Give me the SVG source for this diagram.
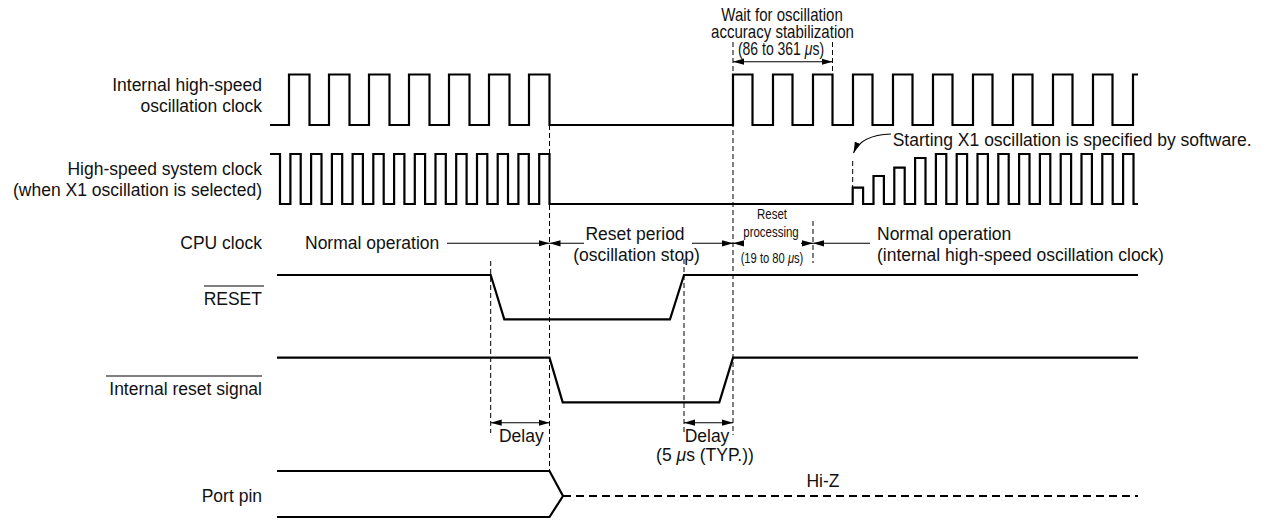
<svg xmlns="http://www.w3.org/2000/svg" width="1266" height="520" viewBox="0 0 1266 520">
<style>
text{font-family:"Liberation Sans",Arial,sans-serif;font-size:17.5px;fill:#111}
.end{text-anchor:end}
.mid{text-anchor:middle}
.sm{font-size:14px}
.wave{fill:none;stroke:#000;stroke-width:2.2;stroke-linejoin:miter}
.dash{fill:none;stroke:#000;stroke-width:1;stroke-dasharray:5,3}
.arr{fill:none;stroke:#000;stroke-width:1.1}
.ol{stroke:#000;stroke-width:1}
.hiz{fill:none;stroke:#000;stroke-width:2.2;stroke-dasharray:8,5}
</style>
<defs>
<marker id="ah" markerUnits="userSpaceOnUse" markerWidth="12" markerHeight="8" refX="11" refY="4" orient="auto-start-reverse">
<path d="M0,0.9 L11,4 L0,7.1 z" fill="#000"/>
</marker>
</defs>

<g id="labels">
<text class="end" x="262" y="91">Internal high-speed</text>
<text class="end" x="262" y="112">oscillation clock</text>
<text class="end" x="262" y="175">High-speed system clock</text>
<text class="end" x="262" y="196">(when X1 oscillation is selected)</text>
<text class="end" x="262" y="249">CPU clock</text>
<text class="end" x="262" y="305">RESET</text>
<line class="ol" x1="204" y1="286" x2="264" y2="286"/>
<text class="end" x="262" y="395">Internal reset signal</text>
<line class="ol" x1="106" y1="376" x2="262" y2="376"/>
<text class="end" x="262" y="502">Port pin</text>
</g>

<g id="internal-hs-clock">
<path class="wave" d="M270 125 H289 V74.5 H309.5 V125 H329 V74.5 H349.5 V125 H369 V74.5 H389.5 V125 H409 V74.5 H429.5 V125 H449 V74.5 H469.5 V125 H489 V74.5 H509.5 V125 H529 V74.5 H549.5 V125 H733 V74.5 H752.5 V125 H773 V74.5 H792.5 V125 H813 V74.5 H832.5 V125 H853 V74.5 H872.5 V125 H893 V74.5 H912.5 V125 H933 V74.5 H952.5 V125 H973 V74.5 H992.5 V125 H1013 V74.5 H1032.5 V125 H1053 V74.5 H1072.5 V125 H1093 V74.5 H1112.5 V125 H1133 V74.5 H1138"/>
</g>

<g id="hs-system-clock">
<path class="wave" d="M270 154 H280 V204 H290.4 V154 H300.7 V204 H311.1 V154 H321.5 V204 H331.9 V154 H342.2 V204 H352.6 V154 H362.9 V204 H373.3 V154 H383.7 V204 H394.1 V154 H404.4 V204 H414.8 V154 H425.1 V204 H435.5 V154 H445.8 V204 H456.2 V154 H466.6 V204 H477 V154 H487.3 V204 H497.7 V154 H508 V204 H518.4 V154 H528.8 V204 H539.2 V154 H549.5 V204 H852.7 V187.7 H863.1 V204 H873.5 V176 H883.9 V204 H894.3 V167.7 H904.7 V204 H915.1 V158 H925.5 V204 H935.9 V154 H946.3 V204 H956.7 V154 H967.1 V204 H977.5 V154 H987.9 V204 H998.3 V154 H1008.7 V204 H1019.1 V154 H1029.5 V204 H1039.9 V154 H1050.3 V204 H1060.7 V154 H1071.1 V204 H1081.5 V154 H1091.9 V204 H1102.3 V154 H1112.7 V204 H1123.1 V154 H1133.5 V204 H1138"/>
</g>

<g id="reset-pin">
<path class="wave" d="M277 275 H490.7 L504.3 319.3 H670 L684 275 H1138"/>
</g>

<g id="internal-reset">
<path class="wave" d="M277 357.7 H549.5 L562.7 402.3 H719.3 L733 357.7 H1138"/>
</g>

<g id="port-pin">
<path class="wave" d="M277 471 H549.5 L563 496 L549.5 517 H277"/>
<path class="hiz" d="M563 496 H1138"/>
<text class="mid" x="823" y="487">Hi-Z</text>
</g>

<g id="annotations">
<text class="mid" transform="translate(782,21) scale(0.86,1)" x="0" y="0">Wait for oscillation</text>
<text class="mid" transform="translate(782.5,38) scale(0.86,1)" x="0" y="0">accuracy stabilization</text>
<text class="mid" transform="translate(781,55) scale(0.8,1)" x="0" y="0">(86 to 361 <tspan font-style="italic">μ</tspan>s)</text>

<text x="892.7" y="146">Starting X1 oscillation is specified by software.</text>

<text x="305" y="249">Normal operation</text>
<text class="mid" x="635" y="240">Reset period</text>
<text class="mid" x="636.5" y="261">(oscillation stop)</text>
<text class="mid sm" transform="translate(772,219) scale(0.82,1)" x="0" y="0">Reset</text>
<text class="mid sm" transform="translate(771,237) scale(0.82,1)" x="0" y="0">processing</text>
<text class="mid sm" transform="translate(772,263) scale(0.8,1)" x="0" y="0">(19 to 80 <tspan font-style="italic">μ</tspan>s)</text>
<text x="877" y="240">Normal operation</text>
<text x="877" y="261">(internal high-speed oscillation clock)</text>

<text class="mid" x="521.3" y="442">Delay</text>
<text class="mid" x="707" y="442">Delay</text>
<text class="mid" x="705" y="461">(5 <tspan font-style="italic">μ</tspan>s (TYP.))</text>
</g>

<g id="connectors">
<path class="dash" d="M490.7 261 V433"/>
<path class="dash" d="M549.5 125 V471"/>
<path class="dash" d="M684 259 V433"/>
<path class="dash" d="M733 42 V435"/>
<path class="dash" d="M832.5 42 V72"/>
<path class="dash" d="M813 221 V263"/>
<path class="dash" d="M852.7 161 V187"/>

<line class="arr" x1="733" y1="61.7" x2="832.5" y2="61.7" marker-start="url(#ah)" marker-end="url(#ah)"/>
<line class="arr" x1="447" y1="243.3" x2="549.5" y2="243.3" marker-end="url(#ah)"/>
<line class="arr" x1="584" y1="243.3" x2="549.5" y2="243.3" marker-end="url(#ah)"/>
<line class="arr" x1="692" y1="243.3" x2="733" y2="243.3" marker-end="url(#ah)"/>
<line class="arr" x1="741" y1="243.3" x2="733" y2="243.3" marker-end="url(#ah)"/>
<line class="arr" x1="801" y1="243.3" x2="813" y2="243.3" marker-end="url(#ah)"/>
<line class="arr" x1="870" y1="243.3" x2="813" y2="243.3" marker-end="url(#ah)"/>
<line class="arr" x1="490.7" y1="422.7" x2="549.5" y2="422.7" marker-start="url(#ah)" marker-end="url(#ah)"/>
<line class="arr" x1="684" y1="422.7" x2="733" y2="422.7" marker-start="url(#ah)" marker-end="url(#ah)"/>
<path class="arr" d="M891 134 Q861 135 853.5 153" marker-end="url(#ah)"/>
</g>
</svg>
